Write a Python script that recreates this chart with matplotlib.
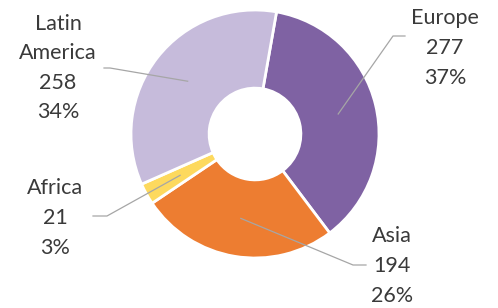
import numpy as np
import matplotlib
matplotlib.use('Agg')
import matplotlib.pyplot as plt

regions = ['Europe', 'Asia', 'Africa', 'Latin\nAmerica']
values = [277, 194, 21, 258]
colors = ['#7F62A3', '#ED7D31', '#FDD95E', '#C6BBDB']

plt.rcParams['font.family'] = ['Lato', 'DejaVu Sans']

W, H = 498, 308
fig = plt.figure(figsize=(W / 100, H / 100), dpi=100)
ax = fig.add_axes([0, 0, 1, 1])

cx, cy, R = 255, 174, 124
wedges, _ = ax.pie(values, colors=colors, startangle=80, counterclock=False,
                   center=(cx, cy), radius=R, frame=True,
                   wedgeprops=dict(width=R * 0.63, edgecolor='white', linewidth=2))
ax.set_xlim(0, W)
ax.set_ylim(0, H)
ax.set_aspect('equal')
ax.axis('off')

total = sum(values)
# text block centre, elbow point, line end (pixels from top-left)
label_pos = [(445, 48), (392, 266), (55, 218), (58, 68)]
elbows = [(393, 36), (353, 265), (107, 216), (110, 68)]
ends = [(405, 36), (366, 265), (93, 216), (104, 68)]

for w, name, v, (tx, ty), (ex, ey), (fx, fy) in zip(wedges, regions, values,
                                                     label_pos, elbows, ends):
    mid = np.deg2rad((w.theta1 + w.theta2) / 2)
    ax0 = cx + 0.69 * R * np.cos(mid)
    ay0 = cy + 0.69 * R * np.sin(mid)
    ax.plot([ax0, ex, fx], [ay0, H - ey, H - fy], color='#A6A6A6', lw=0.9)
    pct = round(100 * v / total)
    ax.text(tx, H - ty, f'{name}\n{v}\n{pct}%', ha='center', va='center',
            fontsize=15.5, color='#3A3A3A', linespacing=1.6)

fig.savefig('out.png', dpi=100)
